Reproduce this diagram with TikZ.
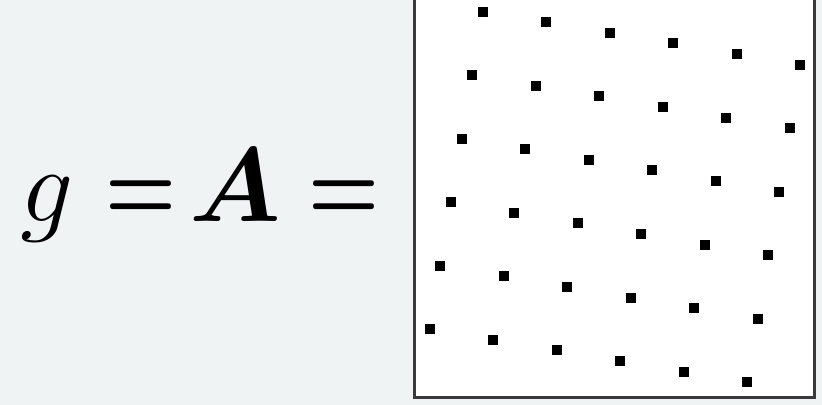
\RequirePackage{fix-cm}
\documentclass[tikz,border=0pt]{standalone}
\usepackage{amsmath,bm}
\usepackage{xcolor}
\definecolor{bgcol}{RGB}{240,243,244}
\definecolor{framecol}{RGB}{58,58,60}
\tikzset{
  sym/.style={inner sep=0pt, anchor=base, font=\fontsize{52.7}{60}\selectfont},
  eqsym/.style={sym, xscale=0.77},
  dot/.style={fill=black}
}

\begin{document}
\begin{tikzpicture}[x=0.5pt, y=-0.5pt]

  % Define the canvas
  \clip (0,0) rectangle (822,405);
  \fill[bgcol] (0,0) rectangle (822,405);

  % Define the equation
  \node[sym] (g) at (47,221.7) {$g$};
  \node[eqsym] (eqA) at (141.5,221.7) {$\bm{=}$};
  \node[sym] (A) at (235,221.7) {$\bm{A}$};
  \node[eqsym] (eqB) at (344.5,221.7) {$\bm{=}$};

  % Draw the frame (top edge lies above the picture)
  \fill[white] (414,-20) rectangle (814,397);
  \draw[framecol, line width=1.5pt] (414,-20) -- (414,397) -- (814,397) -- (814,-20);

  % Draw the lattice points
  \foreach \r in {0,...,5}
    \foreach \c in {0,...,5}
      \fill[dot] ({482.7+63.5*\c-10.6*\r-5},{11.7+10.6*\c+63.5*\r-5}) rectangle ++(10,10);
\end{tikzpicture}
\end{document}
